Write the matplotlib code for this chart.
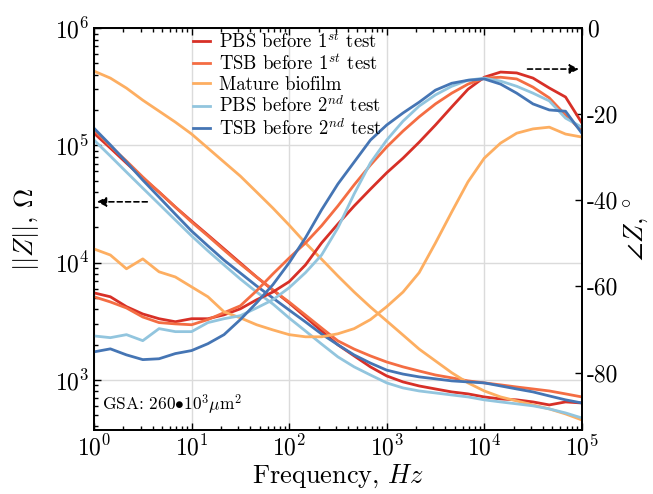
import numpy as np
import matplotlib
matplotlib.use('Agg')
import matplotlib.pyplot as plt

# LaTeX-ish look without usetex
plt.rcParams['font.family'] = ['cmr10', 'DejaVu Serif']
plt.rcParams['mathtext.fontset'] = 'cm'
plt.rcParams['axes.unicode_minus'] = False
plt.rcParams['axes.formatter.use_mathtext'] = True

################################################################
# Data, 6 points per decade
freq = [1, 1.47, 2.15, 3.16, 4.64, 6.81, 10, 14.7, 21.5, 31.6, 46.4, 68.1,
        100, 147, 215, 316, 464, 681, 1000, 1470, 2150, 3160, 4640, 6810,
        10000, 14700, 21500, 31600, 46400, 68100, 100000]

labels = ['PBS before 1$^{st}$ test', 'TSB before 1$^{st}$ test', 'Mature biofilm',
          'PBS before 2$^{nd}$ test', 'TSB before 2$^{nd}$ test']

# |Z|, Ohm
z_pbs1 = [127000, 94800, 70600, 52600, 40000, 29800, 22600, 17200, 13100, 9930, 7530, 5840,
          4530, 3440, 2610, 1990, 1600, 1290, 1080, 960, 887, 836, 789, 759,
          715, 687, 675, 648, 611, 648, 635]
z_tsb1 = [135000, 98600, 73500, 53700, 40000, 29800, 22200, 16900, 12800, 9730, 7530, 5840,
          4610, 3570, 2770, 2150, 1830, 1600, 1420, 1290, 1190, 1100, 1040, 980,
          942, 906, 869, 836, 804, 759, 715]
z_bio = [430000, 375000, 308000, 243000, 196000, 158000, 125000, 94800, 72100, 54700, 40000, 29200,
         20900, 14700, 10700, 7690, 5610, 4180, 3180, 2410, 1830, 1450, 1150, 942,
         804, 715, 661, 611, 565, 512, 455]
z_pbs2 = [111000, 81100, 59200, 43200, 31600, 23100, 16900, 12600, 9550, 7250, 5610, 4440,
          3370, 2610, 2020, 1570, 1290, 1100, 942, 853, 804, 773, 743, 715,
          675, 648, 624, 600, 565, 522, 473]
z_tsb2 = [140000, 101000, 72100, 50600, 36200, 25900, 18600, 13900, 10500, 8150, 6320, 4990,
          3940, 3120, 2460, 1990, 1630, 1390, 1210, 1120, 1060, 1020, 980, 960,
          942, 887, 836, 789, 729, 675, 635]

# phase, deg
p_pbs1 = [-61.5, -62.4, -64.7, -66.4, -67.5, -68.2, -67.5, -67.5, -66.6, -65.2, -63.1, -61.3,
          -58.9, -55.0, -49.9, -45.5, -41.3, -37.4, -33.6, -30.2, -26.5, -22.5, -18.3, -14.2,
          -11.4, -10.2, -10.4, -11.6, -13.9, -16.0, -22.0]
p_tsb1 = [-62.4, -63.6, -65.0, -67.1, -68.4, -68.7, -68.9, -67.7, -66.1, -64.5, -61.0, -57.1,
          -53.4, -49.9, -45.9, -41.3, -36.4, -31.8, -27.6, -23.9, -20.6, -17.6, -15.1, -13.0,
          -11.6, -11.4, -11.8, -13.7, -16.2, -20.2, -23.9]
p_bio = [-51.3, -52.7, -55.9, -53.6, -56.6, -57.8, -60.1, -62.4, -65.9, -67.3, -68.9, -70.1,
         -71.2, -71.7, -71.7, -71.0, -69.8, -67.7, -64.7, -61.3, -56.8, -49.9, -42.7, -35.7,
         -30.2, -26.7, -24.4, -23.4, -23.0, -24.6, -25.3]
p_pbs2 = [-71.5, -71.9, -71.2, -72.6, -69.8, -70.5, -70.5, -68.4, -67.5, -66.8, -65.0, -63.1,
          -60.3, -56.8, -52.7, -46.4, -38.5, -31.3, -26.0, -21.6, -18.1, -15.5, -13.5, -12.1,
          -11.6, -12.3, -13.5, -15.1, -16.9, -20.9, -23.0]
p_tsb2 = [-75.2, -74.5, -75.9, -77.0, -76.8, -75.6, -74.9, -73.3, -71.2, -67.7, -63.8, -59.6,
          -54.5, -48.7, -42.2, -36.2, -31.1, -26.0, -22.5, -19.7, -17.2, -14.4, -12.8, -12.1,
          -11.8, -13.0, -15.1, -17.6, -19.0, -19.3, -24.4]

zz = [z_pbs1, z_tsb1, z_bio, z_pbs2, z_tsb2]
pp = [p_pbs1, p_tsb1, p_bio, p_pbs2, p_tsb2]
cols = ['#d73027', '#f46d43', '#fdae61', '#92c5de', '#4575b4']
phase_ticks = [0, -20, -40, -60, -80]

################################################################
# Plot
lw = 2.0
fig = plt.figure(figsize=(6.53, 4.94), dpi=100)
ax1 = fig.add_axes([0.144, 0.130, 0.747, 0.813])
ax2 = ax1.twinx()

hh = []
for zi, pi, cc, ll in zip(zz, pp, cols, labels):
    ax1.plot(freq, zi, color=cc, lw=lw)
    h, = ax2.plot(freq, pi, color=cc, lw=lw, label=ll)
    hh.append(h)

ax1.set_xscale('log')
ax1.set_yscale('log')
ax1.set_xlim(1, 1e5)
ax1.set_ylim(375, 1e6)
ax2.set_ylim(-93.3, 0)
ax2.set_yticks(phase_ticks)
ax2.set_yticklabels(['{:d}'.format(t) for t in phase_ticks])

ax1.grid(True, which='major', color='0.86', lw=1)
ax1.tick_params(which='both', direction='in', top=True, right=False, labelsize=17, width=1)
ax1.tick_params(which='major', length=5)
ax1.tick_params(which='minor', length=3)
ax2.tick_params(which='both', direction='in', labelsize=17, length=5, width=1)
for ax in [ax1, ax2]:
    for s in ax.spines.values():
        s.set_linewidth(1.3)

ax1.set_xlabel('Frequency, $Hz$', fontsize=19, labelpad=2)
ax1.set_ylabel('$||Z||$, $\\Omega$', fontsize=19, labelpad=10)
ax2.set_ylabel('$\\angle Z$, $^{\\circ}$', fontsize=19, labelpad=3)

# arrows showing which axis belongs to which curves
ax1.annotate('', xy=(1.0, 3.3e4), xytext=(3.75, 3.3e4),
             arrowprops=dict(arrowstyle='-|>', ls=(0, (3, 2)), color='k', lw=1.2, mutation_scale=14))
ax2.annotate('', xy=(1e5, -9.5), xytext=(2.6e4, -9.5),
             arrowprops=dict(arrowstyle='-|>', ls=(0, (3, 2)), color='k', lw=1.2, mutation_scale=14))

ax1.text(0.016, 0.062, 'GSA: 260$\\bullet$10$^3$$\\mathrm{\\mu}$m$^2$', transform=ax1.transAxes,
         fontsize=12.5, va='center', ha='left')

ax2.legend(handles=hh, loc='upper left', bbox_to_anchor=(0.195, 1.0), frameon=False,
           fontsize=13.5, handlelength=0.9, handletextpad=0.5, labelspacing=0.12,
           borderaxespad=0, borderpad=0.2)

plt.savefig('out.png', dpi=100)
